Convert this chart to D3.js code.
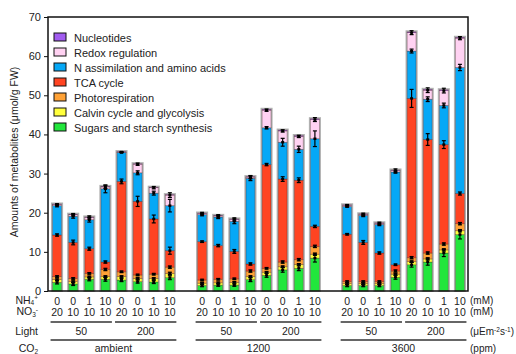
<!DOCTYPE html>
<html>
<head>
<meta charset="utf-8">
<script src="https://cdn.jsdelivr.net/npm/d3@7"></script>
<style>
  body { margin: 0; background: #fff; }
  text { font-family: "Liberation Sans", Arial, sans-serif; fill: #222; }
</style>
</head>
<body>
<div id="chart"></div>
<script>
// conditions, 24 bars (3 CO2 levels x 2 light x 4 N supplies)
var nh4 = ["0","0","1","10","0","0","1","10"];
var no3 = ["20","10","10","10","20","10","10","10"];
var lights = ["50","200"];
var co2Levels = ["ambient","1200","3600"];

// stacked series, bottom to top (µmol/g FW)
var seriesNames = ["Sugars and starch synthesis","Calvin cycle and glycolysis","Photorespiration",
  "TCA cycle","N assimilation and amino acids","Redox regulation","Nucleotides"];
var seriesColors = ["#22e63c","#ffff3c","#ffa236","#ff4422","#06a8f6","#ffd2f2","#a25cf0"];

var sugars   = [2.2,1.8,3.0,3.0,2.8,2.4,2.3,3.4, 1.4,1.5,1.5,2.9,4.0,5.4,5.8,8.4, 1.4,1.4,1.4,3.5,6.7,7.4,9.7,14.4];
var calvin   = [0.7,0.6,0.6,0.7,0.9,0.8,0.9,1.1, 0.6,0.6,0.7,0.8,0.8,0.8,1.0,1.0, 0.5,0.5,0.5,0.8,0.8,0.8,0.8,1.0];
var photores = [0.8,0.8,0.9,1.8,1.2,0.9,1.1,1.6, 0.8,0.9,0.9,1.4,1.0,1.2,1.2,2.0, 0.5,0.5,0.5,0.8,1.0,1.5,1.5,1.8];
var tca      = [10.6,9.2,6.3,1.9,23.1,18.8,14.1,4.2, 9.8,8.6,7.0,1.8,26.5,21.2,20.3,5.1, 12.1,10.0,7.3,1.6,40.7,29.0,25.4,7.7];
var nassim   = [7.5,6.7,7.4,18.7,7.4,7.3,6.6,11.5, 6.9,7.3,7.7,21.9,9.4,9.4,7.9,22.4, 7.1,6.9,7.3,23.7,12.1,10.3,10.0,32.2];
var redox    = [0.3,0.4,0.6,0.5,0.1,2.2,1.4,2.7, 0.3,0.3,0.5,0.3,4.5,2.9,3.3,4.9, 0.3,0.3,0.3,0.4,4.7,2.3,3.8,7.5];
var nucleo   = [0.1,0.1,0.1,0.1,0.1,0.1,0.1,0.1, 0.1,0.1,0.1,0.1,0.2,0.2,0.2,0.2, 0.1,0.1,0.1,0.1,0.2,0.2,0.2,0.2];

// error (SE) at the top of each segment
var sugarsErr   = [0.4,0.4,0.4,0.5,0.4,0.4,0.4,0.5, 0.3,0.3,0.3,0.5,0.5,0.6,0.6,1.0, 0.3,0.3,0.3,0.5,0.6,0.8,0.9,1.1];
var calvinErr   = [0.2,0.2,0.2,0.2,0.2,0.2,0.2,0.3, 0.2,0.2,0.2,0.2,0.2,0.2,0.2,0.3, 0.2,0.2,0.2,0.2,0.2,0.3,0.3,0.3];
var photoresErr = [0.2,0.2,0.2,0.3,0.2,0.2,0.2,0.3, 0.2,0.2,0.2,0.3,0.2,0.3,0.3,0.3, 0.2,0.2,0.2,0.3,0.3,0.3,0.3,0.3];
var tcaErr      = [0.3,0.6,0.4,0.3,0.6,1.3,1.0,0.9, 0.2,0.3,0.5,0.3,0.3,0.6,0.6,0.3, 0.2,0.5,0.3,0.2,2.3,1.5,1.0,0.4];
var nassimErr   = [0.3,0.5,0.6,1.0,0.1,0.5,0.5,1.6, 0.3,0.4,0.6,0.6,0.3,1.0,0.8,2.0, 0.2,0.3,0.3,0.3,0.5,0.6,0.6,0.8];
var redoxErr    = [0.2,0.3,0.4,0.4,0.1,0.3,0.3,0.6, 0.3,0.3,0.4,0.4,0.3,0.3,0.3,0.5, 0.2,0.3,0.3,0.4,0.5,0.6,0.6,0.4];

var values = [sugars, calvin, photores, tca, nassim, redox, nucleo];
var errors = [sugarsErr, calvinErr, photoresErr, tcaErr, nassimErr, redoxErr, null];

var W = 516, H = 354;
var margin = {top: 17, right: 48, bottom: 63, left: 48};

var svg = d3.select("#chart").append("svg")
    .attr("width", W).attr("height", H);

// 26 slots: 8 bars, 1 empty slot, 8 bars, 1 empty slot, 8 bars
var slot = i => i + Math.floor(i / 8);
var x = d3.scaleBand()
    .domain(d3.range(26))
    .range([margin.left + 1, W - margin.right])
    .paddingInner(0.45)
    .paddingOuter(0.225);
var y = d3.scaleLinear().domain([0, 70]).range([H - margin.bottom, margin.top]);

// build rows for stack
var rows = d3.range(24).map(function(i) {
  var r = {idx: i};
  seriesNames.forEach((n, k) => r[n] = values[k][i]);
  return r;
});
var stack = d3.stack().keys(seriesNames)(rows);

var bars = svg.append("g");
// grey outline round each whole bar
bars.selectAll("rect.outline")
  .data(rows)
  .join("rect")
    .attr("class", "outline")
    .attr("x", d => x(slot(d.idx)) - 0.8)
    .attr("width", x.bandwidth() + 1.6)
    .attr("y", d => y(d3.sum(values, v => v[d.idx])) - 0.8)
    .attr("height", d => y(0) - y(d3.sum(values, v => v[d.idx])) + 0.8)
    .attr("fill", "none")
    .attr("stroke", "#b0b0b0")
    .attr("stroke-width", 1.6);

stack.forEach(function(layer, k) {
  bars.append("g")
    .selectAll("rect")
    .data(layer)
    .join("rect")
      .attr("x", (d, i) => x(slot(i)))
      .attr("width", x.bandwidth())
      .attr("y", d => y(d[1]))
      .attr("height", d => Math.max(0, y(d[0]) - y(d[1])))
      .attr("fill", seriesColors[k])
      .attr("stroke", "rgba(60,20,20,0.45)")
      .attr("stroke-width", 0.7);
});

// error bars
var eb = svg.append("g").attr("stroke", "#000").attr("stroke-width", 1.2);
stack.forEach(function(layer, k) {
  if (!errors[k]) return;
  layer.forEach(function(d, i) {
    var cx = x(slot(i)) + x.bandwidth() / 2;
    var e = errors[k][i];
    var y1 = y(d[1] + e), y2 = y(d[1] - e);
    eb.append("line").attr("x1", cx).attr("x2", cx).attr("y1", y1).attr("y2", y2);
    eb.append("line").attr("x1", cx - 2).attr("x2", cx + 2).attr("y1", y1).attr("y2", y1);
    eb.append("line").attr("x1", cx - 2).attr("x2", cx + 2).attr("y1", y2).attr("y2", y2);
    eb.append("rect").attr("x", cx - 1.5).attr("y", y(d[1]) - 1.2).attr("width", 3).attr("height", 2.4)
      .attr("fill", "#000").attr("stroke", "none");
  });
});

// frame
svg.append("rect")
  .attr("x", margin.left).attr("y", margin.top)
  .attr("width", W - margin.left - margin.right)
  .attr("height", H - margin.top - margin.bottom)
  .attr("fill", "none").attr("stroke", "#111").attr("stroke-width", 1.5);

// y axis
var yAxis = svg.append("g")
  .attr("transform", "translate(" + margin.left + ",0)")
  .call(d3.axisLeft(y).tickValues(d3.range(0, 71, 10)).tickSize(4).tickPadding(3));
yAxis.select(".domain").remove();
yAxis.selectAll("text").style("font-size", "11px").style("font-family", "Liberation Sans, Arial, sans-serif").attr("fill", "#222");
yAxis.selectAll("line").attr("stroke", "#111");

svg.append("text")
  .attr("transform", "translate(18," + ((margin.top + H - margin.bottom) / 2 - 2) + ") rotate(-90)")
  .attr("text-anchor", "middle")
  .style("font-size", "10.5px")
  .attr("fill", "#333")
  .text("Amounts of metabolites (μmol/g FW)");

// legend
var legendNames = seriesNames.slice().reverse();
var legendColors = seriesColors.slice().reverse();
var lg = svg.append("g").attr("transform", "translate(54,33)");
legendNames.forEach(function(n, i) {
  var g = lg.append("g").attr("transform", "translate(0," + (i * 15) + ")");
  g.append("rect").attr("width", 12).attr("height", 8)
    .attr("fill", legendColors[i]).attr("stroke", "#111").attr("stroke-width", 1);
  g.append("text").attr("x", 20).attr("y", 8.5).style("font-size", "11px").text(n);
});

// bottom category rows
var fs = "10.5px";
var bottom = svg.append("g");
var cxOf = i => x(slot(i)) + x.bandwidth() / 2;
d3.range(24).forEach(function(i) {
  bottom.append("text").attr("x", cxOf(i)).attr("y", 305).attr("text-anchor", "middle").style("font-size", fs).text(nh4[i % 8]);
  bottom.append("text").attr("x", cxOf(i)).attr("y", 316).attr("text-anchor", "middle").style("font-size", fs).text(no3[i % 8]);
});
for (var g = 0; g < 3; g++) {
  for (var l = 0; l < 2; l++) {
    var a = g * 8 + l * 4, b = a + 3;
    bottom.append("line").attr("x1", cxOf(a) - 6.5).attr("x2", cxOf(b) + 6.5)
      .attr("y1", 322).attr("y2", 322).attr("stroke", "#333").attr("stroke-width", 1.3);
    bottom.append("text").attr("x", (cxOf(a) + cxOf(b)) / 2).attr("y", 335)
      .attr("text-anchor", "middle").style("font-size", fs).text(lights[l]);
  }
  bottom.append("line").attr("x1", cxOf(g * 8) - 6.5).attr("x2", cxOf(g * 8 + 7) + 6.5)
    .attr("y1", 340).attr("y2", 340).attr("stroke", "#333").attr("stroke-width", 1.3);
  bottom.append("text").attr("x", (cxOf(g * 8) + cxOf(g * 8 + 7)) / 2).attr("y", 352)
    .attr("text-anchor", "middle").style("font-size", fs).text(co2Levels[g]);
}

// row titles and units
function label(xp, yp, parts, anchor, size) {
  var t = bottom.append("text").attr("x", xp).attr("y", yp).attr("text-anchor", anchor).style("font-size", size || fs);
  parts.forEach(function(p) {
    var s = t.append("tspan").text(p[0]);
    if (p[1] === "sub") s.attr("dy", p[2]).style("font-size", "6.5px");
    if (p[1] === "sup") s.attr("dy", p[2]).style("font-size", "6.5px");
    if (p[1] === "back") s.attr("dy", p[2]);
  });
}
label(38, 303.5, [["NH"], ["4", "sub", 1.5], ["+", "sup", -5], ["", "back", 3.5]], "end");
label(38, 315, [["NO"], ["3", "sub", 1.5], ["-", "sup", -4.5], ["", "back", 3]], "end");
label(38, 335, [["Light"]], "end");
label(38, 352, [["CO"], ["2", "sub", 2]], "end");
label(470, 304, [["(mM)"]], "start", "10px");
label(470, 315, [["(mM)"]], "start", "10px");
label(470, 335, [["(μEm"], ["-2", "sup", -3.5], ["s", "back", 3.5], ["-1", "sup", -3.5], [")", "back", 3.5]], "start", "10px");
label(470, 352, [["(ppm)"]], "start", "10px");
</script>
</body>
</html>
